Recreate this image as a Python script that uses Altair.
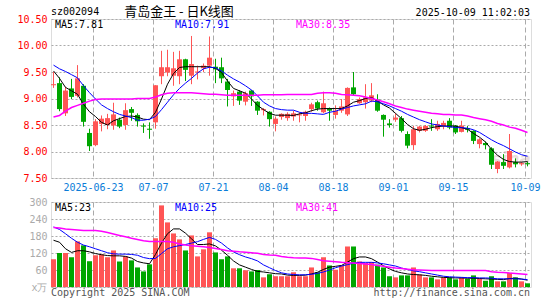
import altair as alt
import pandas as pd

# trading days shown (last 80 sessions)
dates = [d.strftime("%Y-%m-%d") for d in pd.bdate_range("2025-06-12", "2025-09-30")] + ["2025-10-09"]

opens = [9.25, 9.29, 8.72, 9.19, 9.05, 9.24, 8.35, 8.12, 8.52, 8.50,
         8.49, 8.60, 8.50, 8.80, 8.69, 8.49, 8.43, 8.55, 9.42, 9.49,
         9.43, 9.42, 9.74, 9.43, 9.49, 9.57, 9.62, 9.60, 9.59, 9.32,
         9.04, 9.13, 8.94, 9.15, 8.94, 8.78, 8.75, 8.52, 8.65, 8.63,
         8.66, 8.68, 8.67, 8.80, 8.93, 8.74, 8.81, 8.69, 8.77, 8.70,
         9.21, 8.91, 8.93, 8.96, 8.98, 8.69, 8.53, 8.60, 8.63, 8.33,
         8.12, 8.39, 8.39, 8.49, 8.42, 8.48, 8.58, 8.49, 8.37, 8.44,
         8.39, 8.14, 8.16, 8.06, 7.67, 7.80, 7.70, 7.80, 7.76, 7.78]
highs = [9.50, 9.40, 9.22, 9.37, 9.63, 9.27, 8.43, 8.61, 8.68, 8.71,
         8.92, 8.64, 8.91, 8.84, 8.72, 8.53, 8.55, 9.25, 9.90, 9.92,
         9.88, 9.90, 9.75, 10.18, 9.62, 9.66, 10.17, 9.75, 9.77, 9.37,
         9.15, 9.16, 9.13, 9.16, 8.95, 8.82, 8.76, 8.66, 8.72, 8.74,
         8.77, 8.74, 8.77, 8.92, 8.96, 9.13, 8.83, 8.87, 8.99, 9.21,
         9.50, 9.02, 9.27, 9.29, 9.08, 8.70, 8.61, 8.72, 8.67, 8.38,
         8.48, 8.48, 8.50, 8.61, 8.58, 8.58, 8.63, 8.50, 8.58, 8.48,
         8.40, 8.25, 8.19, 8.08, 7.82, 7.95, 8.33, 7.87, 7.80, 7.81]
lows = [9.20, 8.76, 8.67, 8.99, 9.02, 8.47, 8.01, 8.10, 8.38, 8.42,
        8.41, 8.44, 8.41, 8.58, 8.47, 8.35, 8.24, 8.43, 9.27, 9.42,
        9.24, 9.27, 9.33, 9.27, 9.36, 9.50, 9.43, 9.29, 9.29, 8.85,
        8.86, 8.88, 8.87, 8.86, 8.69, 8.68, 8.47, 8.38, 8.60, 8.58,
        8.58, 8.55, 8.58, 8.75, 8.77, 8.72, 8.58, 8.62, 8.73, 8.67,
        9.06, 8.90, 8.81, 8.93, 8.75, 8.28, 8.45, 8.56, 8.36, 8.06,
        8.03, 8.36, 8.37, 8.39, 8.39, 8.42, 8.42, 8.33, 8.36, 8.36,
        8.14, 8.06, 8.04, 7.67, 7.59, 7.67, 7.68, 7.70, 7.73, 7.72]
closes = [9.27, 8.80, 9.15, 9.03, 9.38, 8.56, 8.10, 8.57, 8.62, 8.63,
          8.70, 8.47, 8.78, 8.73, 8.57, 8.47, 8.41, 9.25, 9.59, 9.59,
          9.57, 9.74, 9.54, 9.65, 9.51, 9.62, 9.77, 9.55, 9.38, 9.16,
          9.10, 8.96, 9.10, 9.04, 8.77, 8.80, 8.61, 8.62, 8.71, 8.71,
          8.72, 8.70, 8.75, 8.89, 8.81, 8.91, 8.77, 8.77, 8.85, 9.20,
          9.08, 8.99, 9.02, 9.06, 8.77, 8.60, 8.50, 8.64, 8.39, 8.11,
          8.42, 8.47, 8.48, 8.47, 8.52, 8.54, 8.45, 8.36, 8.49, 8.41,
          8.20, 8.23, 8.12, 7.75, 7.81, 7.73, 8.01, 7.76, 7.78, 7.76]
volumes = [98, 120, 120, 105, 161, 147, 91, 112, 115, 105,
           129, 90, 108, 94, 69, 55, 80, 172, 288, 228,
           189, 168, 129, 182, 108, 133, 193, 122, 98, 108,
           66, 66, 59, 55, 60, 34, 45, 38, 38, 38,
           52, 38, 38, 69, 52, 105, 76, 61, 76, 143,
           143, 90, 85, 88, 79, 69, 38, 34, 41, 41,
           69, 44, 34, 34, 27, 34, 34, 27, 34, 29,
           41, 29, 22, 38, 20, 20, 50, 34, 20, 13]

ma5 = [9.52, 9.38, 9.21, 9.145, 9.08, 8.89, 8.75, 8.66, 8.55, 8.50,
       8.58, 8.62, 8.66, 8.67, 8.65, 8.61, 8.60, 8.74, 8.99, 9.27,
       9.47, 9.585, 9.60, 9.60, 9.60, 9.60, 9.60, 9.57, 9.49, 9.33,
       9.19, 9.145, 9.10, 8.99, 8.87, 8.79, 8.72, 8.685, 8.685, 8.685,
       8.68, 8.71, 8.73, 8.77, 8.80, 8.81, 8.81, 8.81, 8.81, 8.86,
       8.93, 8.96, 9.00, 9.02, 8.95, 8.88, 8.82, 8.72, 8.62, 8.51,
       8.43, 8.40, 8.42, 8.45, 8.47, 8.48, 8.48, 8.48, 8.45, 8.42,
       8.34, 8.27, 8.18, 8.04, 7.93, 7.85, 7.81, 7.80, 7.80, 7.81]
ma10 = [9.63, 9.56, 9.51, 9.45, 9.39, 9.24, 9.11, 8.99, 8.88, 8.81,
        8.75, 8.70, 8.67, 8.64, 8.59, 8.59, 8.61, 8.66, 8.79, 8.93,
        9.07, 9.19, 9.29, 9.38, 9.48, 9.56, 9.59, 9.58, 9.52, 9.44,
        9.37, 9.31, 9.24, 9.16, 9.05, 8.93, 8.86, 8.81, 8.79, 8.78,
        8.78, 8.74, 8.72, 8.72, 8.71, 8.70, 8.74, 8.76, 8.80, 8.83,
        8.86, 8.88, 8.90, 8.95, 8.94, 8.90, 8.86, 8.81, 8.76, 8.70,
        8.65, 8.60, 8.56, 8.52, 8.50, 8.48, 8.47, 8.45, 8.45, 8.44,
        8.41, 8.36, 8.29, 8.22, 8.16, 8.11, 8.05, 7.99, 7.94, 7.91]
ma30 = [8.65, 8.68, 8.76, 8.83, 8.87, 8.91, 8.95, 8.98, 8.99, 8.99,
        8.99, 8.99, 8.99, 8.99, 9.00, 9.00, 9.00, 9.03, 9.07, 9.10,
        9.11, 9.11, 9.11, 9.11, 9.10, 9.09, 9.08, 9.08, 9.07, 9.06,
        9.06, 9.06, 9.06, 9.06, 9.06, 9.07, 9.07, 9.07, 9.07, 9.075,
        9.075, 9.075, 9.075, 9.075, 9.10, 9.11, 9.11, 9.10, 9.075, 9.07,
        9.06, 9.05, 9.03, 9.00, 8.97, 8.94, 8.90, 8.86, 8.83, 8.80,
        8.78, 8.76, 8.74, 8.72, 8.71, 8.70, 8.70, 8.69, 8.69, 8.67,
        8.64, 8.62, 8.60, 8.57, 8.53, 8.50, 8.46, 8.44, 8.40, 8.36]

vma5 = [165, 158, 135, 122, 128, 128, 124, 118, 114, 111,
        110, 110, 108, 102, 90, 85, 82, 115, 155, 188,
        205, 205, 190, 170, 150, 150, 152, 145, 130, 112,
        92, 78, 70, 62, 55, 53, 50, 47, 46, 42,
        41, 41, 42, 46, 52, 62, 70, 73, 76, 88,
        100, 106, 106, 100, 88, 75, 64, 55, 50, 46,
        44, 43, 41, 38, 36, 34, 33, 32, 32, 31,
        31, 30, 29, 28, 27, 26, 30, 31, 28, 24]
vma10 = [212, 203, 188, 172, 158, 148, 142, 135, 128, 121,
         117, 116, 116, 115, 112, 104, 100, 101, 118, 135,
         142, 146, 150, 155, 160, 168, 175, 168, 155, 138,
         124, 114, 106, 100, 92, 78, 68, 58, 50, 46,
         44, 43, 43, 45, 48, 53, 60, 68, 74, 79,
         84, 87, 87, 87, 85, 82, 78, 74, 67, 62,
         57, 54, 50, 46, 42, 38, 36, 35, 34, 33,
         33, 32, 32, 31, 29, 29, 29, 29, 28, 26]
vma30 = [210, 208, 205, 203, 201, 199, 199, 199, 197, 192,
         187, 182, 177, 172, 168, 163, 161, 161, 161, 161,
         158, 152, 148, 146, 144, 142, 139, 136, 132, 128,
         126, 124, 123, 121, 119, 115, 113, 112, 108, 105,
         103, 102, 102, 101, 97, 93, 91, 89, 87, 86,
         85, 83, 81, 79, 76, 73, 70, 67, 65, 63,
         61, 60, 59, 58, 58, 58, 58, 58, 58, 58,
         58, 58, 58, 54, 52, 51, 49, 48, 46, 44]

tick_dates = ["2025-06-23", "2025-07-07", "2025-07-21", "2025-08-04",
              "2025-08-18", "2025-09-01", "2025-09-15", "2025-10-09"]
tick_labels = ["2025-06-23", "07-07", "07-21", "08-04", "08-18", "09-01", "09-15", "10-09"]
price_ticks = [7.5, 8.0, 8.5, 9.0, 9.5, 10.0, 10.5]
vol_ticks = [0, 60, 120, 180, 240, 300]
ma_names = ["MA5", "MA10", "MA30"]
price_ma_text = ["MA5:7.81", "MA10:7.91", "MA30:8.35"]
vol_ma_text = ["MA5:23", "MA10:25", "MA30:41"]
code_text = "sz002094"
title_text = "青岛金王 - 日K线图"
time_text = "2025-10-09 11:02:03"
copy_text = "Copyright 2025 SINA.COM"
url_text = "http://finance.sina.com.cn"
vol_unit = "x万"
watermark_text = "sina"

# ---------------------------------------------------------------- styling
MONO = "DejaVu Sans Mono"
RED = "#ff5555"
GREEN = "#00a600"
MA_COLORS = ["#000000", "#0000ff", "#ff00ff"]
GRID = "#aaaaaa"
W, H_MAIN, H_VOL = 480, 159, 85

df = pd.DataFrame({"date": dates, "open": opens, "high": highs, "low": lows,
                   "close": closes, "vol": volumes})
df["idx"] = range(len(dates))
n = len(dates)

ma_df = pd.DataFrame({"idx": list(range(n)) * 3,
                      "value": ma5 + ma10 + ma30,
                      "series": [m for m in ma_names for _ in range(n)]})
vma_df = pd.DataFrame({"idx": list(range(n)) * 3,
                       "value": vma5 + vma10 + vma30,
                       "series": [m for m in ma_names for _ in range(n)]})

tick_idx = [dates.index(d) for d in tick_dates]
label_expr = " : ".join(f"datum.value == {i} ? '{l}'" for i, l in zip(tick_idx, tick_labels)) + " : ''"

xscale = alt.Scale(domain=[0, n], nice=False, zero=False)
x_axis_main = alt.Axis(values=tick_idx, labelExpr=label_expr, grid=True, gridDash=[5, 3],
                       gridColor=GRID, ticks=False, domain=False, labelColor="#0a7cd8",
                       labelFont=MONO, labelFontSize=10, labelPadding=4, labelFlush=False,
                       labelOverlap=False, title=None)
x_axis_vol = alt.Axis(values=tick_idx, labels=False, grid=True, gridDash=[5, 3],
                      gridColor=GRID, ticks=False, domain=False, title=None)
yscale = alt.Scale(domain=[7.5, 10.5], nice=False, zero=False)
y_axis_main = alt.Axis(values=price_ticks, format=".2f", grid=True, gridDash=[2, 2],
                       gridColor=GRID, ticks=False, domain=False, labelColor="#ff0000",
                       labelFont=MONO, labelFontSize=10, labelPadding=4, title=None,
                       labelOverlap=False)
vscale = alt.Scale(domain=[0, 300], nice=False, zero=True)
y_axis_vol = alt.Axis(values=vol_ticks, grid=True, gridDash=[2, 2], gridColor=GRID,
                      ticks=False, domain=False, labelColor="#aaaaaa", labelFont=MONO,
                      labelFontSize=10, labelPadding=4, title=None, labelOverlap=False,
                      labelExpr=f"datum.value == 0 ? '{vol_unit}' : datum.label")

dir_color = alt.Color("dir:N", scale=alt.Scale(domain=["up", "down"], range=[RED, GREEN]),
                      legend=None)

base = alt.Chart(df).transform_calculate(
    xl="datum.idx", xr="datum.idx + 5/6", xc="datum.idx + 5/12",
    dir="datum.close >= datum.open ? 'up' : 'down'",
    bot="min(datum.open, datum.close)", top="max(datum.open, datum.close)",
    zero="0",
)

wick = base.mark_rule(strokeWidth=1).encode(
    x=alt.X("xc:Q", scale=xscale, axis=x_axis_main),
    y=alt.Y("low:Q", scale=yscale, axis=y_axis_main),
    y2="high:Q",
    color=dir_color,
)
body = base.mark_bar().encode(
    x=alt.X("xl:Q", scale=xscale, axis=x_axis_main),
    x2="xr:Q",
    y=alt.Y("bot:Q", scale=yscale, axis=y_axis_main),
    y2="top:Q",
    color=dir_color,
)


def ma_layers(data, yscale_, axis_x, axis_y):
    out = []
    for name, col in zip(ma_names, MA_COLORS):
        out.append(
            alt.Chart(data).transform_filter(f"datum.series == '{name}'")
            .transform_calculate(xc="datum.idx + 5/12")
            .mark_line(color=col, strokeWidth=1.5 if name == "MA30" else 1)
            .encode(x=alt.X("xc:Q", scale=xscale, axis=axis_x),
                    y=alt.Y("value:Q", scale=yscale_, axis=axis_y))
        )
    return out


def label(text, x, y, color="#000000", align="left", font=MONO, size=10, **kw):
    return alt.Chart(pd.DataFrame({"t": [text]})).mark_text(
        align=align, baseline="middle", font=font, fontSize=size, color=color, **kw
    ).encode(text="t:N", x=alt.value(x), y=alt.value(y))


anchor = alt.Chart(pd.DataFrame({"a": [0]})).mark_rule(strokeOpacity=0).encode(
    x=alt.value(-50), x2=alt.value(-50), y=alt.value(-18), y2=alt.value(0))

watermark = label(watermark_text, 460, 141, color="#c9a9a9", align="center",
                  font="DejaVu Sans", size=17, fontStyle="italic", fontWeight="bold",
                  opacity=0.4)

main_layers = [anchor, watermark, wick, body] + ma_layers(ma_df, yscale, x_axis_main, y_axis_main)
main_layers += [label(t, x, 6, c) for t, x, c in zip(price_ma_text, [4, 124, 245], MA_COLORS)]
main_layers += [
    label(code_text, 0, -7),
    label(title_text, 128, -7, align="center", font="Noto Sans CJK SC", size=13),
    label(time_text, 479, -6, align="right"),
]
main = alt.layer(*main_layers).properties(width=W, height=H_MAIN)

vbars = base.mark_bar().encode(
    x=alt.X("xl:Q", scale=xscale, axis=x_axis_vol),
    x2="xr:Q",
    y=alt.Y("vol:Q", scale=vscale, axis=y_axis_vol),
    y2="zero:Q",
    color=dir_color,
)
vol_layers = [vbars] + ma_layers(vma_df, vscale, x_axis_vol, y_axis_vol)
vol_layers += [label(t, x, 5.5, c) for t, x, c in zip(vol_ma_text, [4, 124, 245], MA_COLORS)]
vol_layers += [
    label(copy_text, 0, 91, color="#555555"),
    label(url_text, 479, 91, color="#555555", align="right"),
]
vol = alt.layer(*vol_layers).properties(width=W, height=H_VOL)

chart = alt.vconcat(main, vol, spacing=24, bounds="flush").properties(
    padding={"left": 0, "top": 0, "right": 4, "bottom": 0}
).configure_view(stroke="#999999", strokeWidth=1).configure(font=MONO, background="white")

chart.save("out.html", embed_options={"renderer": "svg", "actions": False})
